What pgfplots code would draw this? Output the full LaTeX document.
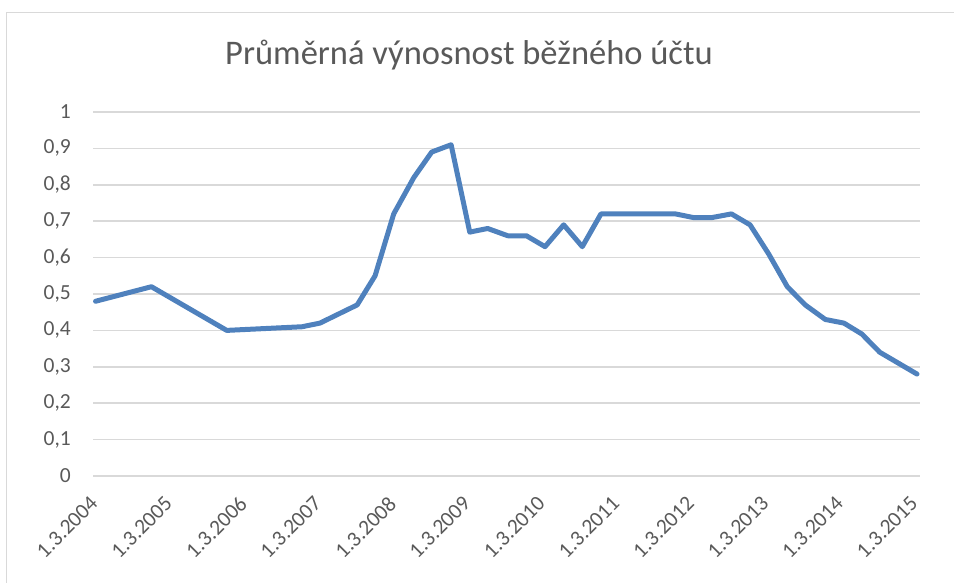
\documentclass[border=0pt]{standalone}
\usepackage{pgfplots}
\pgfplotsset{compat=1.18}
\usepackage{fontspec}
\setmainfont{Carlito}
\definecolor{txt}{RGB}{89,89,89}
\definecolor{gridc}{RGB}{217,217,217}
\definecolor{ln}{RGB}{79,129,189}
\begin{document}
\begin{tikzpicture}[x=1pt,y=1pt]
\useasboundingbox (0,0) rectangle (954,583);
\draw[gridc, line width=1pt] (6,-10) -- (6,570) -- (970,570);
\node[anchor=base, font=\fontsize{34.5}{40}\selectfont, text=txt] at (469,518) {Průměrná výnosnost běžného účtu};
\begin{axis}[
  at={(93pt,107pt)}, anchor=south west,
  scale only axis, width=827pt, height=364pt,
  xmin=-0.094, xmax=11, ymin=0, ymax=1,
  axis line style={draw=none},
  major tick length=0pt,
  xtick={0,1,...,11},
  xticklabels={1.3.2004,1.3.2005,1.3.2006,1.3.2007,1.3.2008,1.3.2009,1.3.2010,1.3.2011,1.3.2012,1.3.2013,1.3.2014,1.3.2015},
  ytick={0,0.1,...,1},
  yticklabels={0,{0,1},{0,2},{0,3},{0,4},{0,5},{0,6},{0,7},{0,8},{0,9},1},
  ymajorgrids, grid style={gridc, line width=1.5pt},
  tick label style={font=\fontsize{21.5}{26}\selectfont, text=txt},
  yticklabel style={anchor=east, inner sep=0pt, xshift=-22pt},
  xticklabel style={xshift=-11pt, yshift=-19pt, rotate=45, anchor=north east, inner sep=0pt},
  /pgf/number format/assume math mode=true,
  clip=false,
]
\addplot[ln, line width=5pt, line join=round, line cap=round] coordinates {
(-0.06,0.48) (0.69,0.52) (1.70,0.40) (2.71,0.41) (2.95,0.42) (3.45,0.47) (3.69,0.55)
(3.94,0.72) (4.21,0.82) (4.45,0.89) (4.71,0.91) (4.96,0.67) (5.20,0.68) (5.47,0.66)
(5.72,0.66) (5.97,0.63) (6.22,0.69) (6.47,0.63) (6.72,0.72) (6.97,0.72) (7.22,0.72)
(7.47,0.72) (7.72,0.72) (7.96,0.71) (8.21,0.71) (8.47,0.72) (8.72,0.69) (8.97,0.61)
(9.22,0.52) (9.46,0.47) (9.73,0.43) (9.98,0.42) (10.22,0.39) (10.46,0.34) (10.71,0.31) (10.96,0.28)
};
\end{axis}
\end{tikzpicture}
\end{document}
